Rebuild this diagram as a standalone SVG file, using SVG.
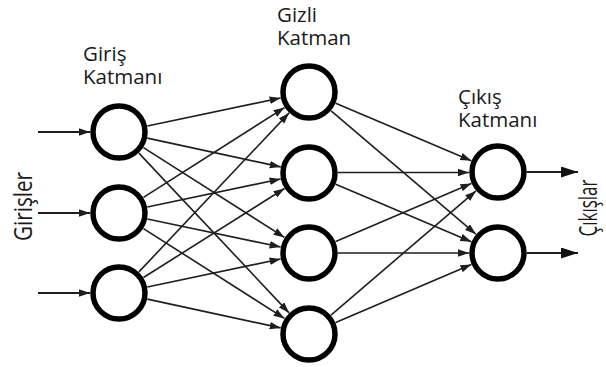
<svg xmlns="http://www.w3.org/2000/svg" width="606" height="367" viewBox="0 0 606 367">
  <style>
    .node { fill: #ffffff; stroke: #000000; stroke-width: 5.5; }
    .edge { stroke: #1e1e1e; stroke-width: 1.6; fill: none; marker-end: url(#head); }
    .io { stroke: #1e1e1e; stroke-width: 1.8; fill: none; }
    .in { marker-end: url(#head); }
    .out { marker-end: url(#headBig); stroke-width: 2.2; }
    .label { font-family: "Open Sans", "Noto Sans", "DejaVu Sans", sans-serif; font-size: 20.5px; fill: #1a1a1a; }
    .side { font-family: "Open Sans", "Noto Sans", "DejaVu Sans", sans-serif; font-size: 26px; fill: #1a1a1a; }
  </style>
  <defs>
    <marker id="head" markerUnits="userSpaceOnUse" markerWidth="12" markerHeight="8" refX="11" refY="3.75" orient="auto">
      <path d="M0,0 L11,3.75 L0,7.5 z" fill="#1e1e1e"/>
    </marker>
    <marker id="headBig" markerUnits="userSpaceOnUse" markerWidth="18" markerHeight="12" refX="17" refY="5.5" orient="auto">
      <path d="M0,0 L17,5.5 L0,11 z" fill="#111111"/>
    </marker>
  </defs>

  <rect width="606" height="367" fill="#ffffff"/>

  <!-- layer titles, two lines each -->
  <g id="title-input">
    <text class="label" x="83" y="61">Giriş<tspan x="83" dy="23">Katmanı</tspan></text>
  </g>
  <g id="title-hidden">
    <text class="label" x="277" y="22">Gizli<tspan x="277" dy="23">Katman</tspan></text>
  </g>
  <g id="title-output">
    <text class="label" x="458" y="104">Çıkış<tspan x="458" dy="23">Katmanı</tspan></text>
  </g>

  <!-- side captions -->
  <g id="caption-inputs">
    <text class="side" transform="translate(32,206.5) rotate(-90)" text-anchor="middle" textLength="69" lengthAdjust="spacingAndGlyphs">Girişler</text>
  </g>
  <g id="caption-outputs">
    <text class="side" transform="translate(597,208) rotate(-90)" text-anchor="middle" textLength="57" lengthAdjust="spacingAndGlyphs">Çıkışlar</text>
  </g>

  <!-- connectors -->
  <g id="connectors">
    <!-- external inputs -->
    <line class="io in" x1="38" y1="132" x2="90" y2="132"/>
    <line class="io in" x1="38" y1="213" x2="90" y2="213"/>
    <line class="io in" x1="38" y1="293" x2="90" y2="293"/>

    <!-- input layer to hidden layer -->
    <line class="edge" x1="147.4" y1="126.0" x2="280.6" y2="98.0"/>
    <line class="edge" x1="147.4" y1="138.1" x2="280.7" y2="166.9"/>
    <line class="edge" x1="143.5" y1="147.6" x2="284.5" y2="237.4"/>
    <line class="edge" x1="138.9" y1="153.1" x2="289.1" y2="312.9"/>

    <line class="edge" x1="143.5" y1="197.4" x2="284.5" y2="107.6"/>
    <line class="edge" x1="147.4" y1="207.0" x2="280.6" y2="179.0"/>
    <line class="edge" x1="147.4" y1="219.0" x2="280.6" y2="247.0"/>
    <line class="edge" x1="143.5" y1="228.6" x2="284.5" y2="318.4"/>

    <line class="edge" x1="138.9" y1="271.9" x2="289.1" y2="112.9"/>
    <line class="edge" x1="143.5" y1="277.5" x2="284.5" y2="188.5"/>
    <line class="edge" x1="147.4" y1="287.0" x2="280.6" y2="259.0"/>
    <line class="edge" x1="147.4" y1="299.1" x2="280.7" y2="327.9"/>

    <!-- hidden layer to output layer -->
    <line class="edge" x1="335.7" y1="103.3" x2="471.3" y2="160.7"/>
    <line class="edge" x1="331.1" y1="110.8" x2="475.9" y2="234.2"/>
    <line class="edge" x1="338" y1="172.5" x2="469" y2="172.5"/>
    <line class="edge" x1="335.7" y1="184.3" x2="471.3" y2="241.7"/>
    <line class="edge" x1="335.7" y1="241.6" x2="471.4" y2="183.4"/>
    <line class="edge" x1="338" y1="253" x2="469" y2="253"/>
    <line class="edge" x1="331.0" y1="315.1" x2="476.0" y2="190.9"/>
    <line class="edge" x1="335.7" y1="322.6" x2="471.4" y2="264.4"/>

    <!-- external outputs -->
    <line class="io out" x1="527" y1="172" x2="578" y2="172"/>
    <line class="io out" x1="527" y1="253" x2="578" y2="253"/>
  </g>

  <!-- input layer -->
  <g id="in1"><circle class="node" cx="119" cy="132" r="26"/></g>
  <g id="in2"><circle class="node" cx="119" cy="213" r="26"/></g>
  <g id="in3"><circle class="node" cx="119" cy="293" r="26"/></g>

  <!-- hidden layer -->
  <g id="hid1"><circle class="node" cx="309" cy="92" r="26"/></g>
  <g id="hid2"><circle class="node" cx="309" cy="173" r="26"/></g>
  <g id="hid3"><circle class="node" cx="309" cy="253" r="26"/></g>
  <g id="hid4"><circle class="node" cx="309" cy="334" r="26"/></g>

  <!-- output layer -->
  <g id="out1"><circle class="node" cx="498" cy="172" r="26"/></g>
  <g id="out2"><circle class="node" cx="498" cy="253" r="26"/></g>
</svg>
